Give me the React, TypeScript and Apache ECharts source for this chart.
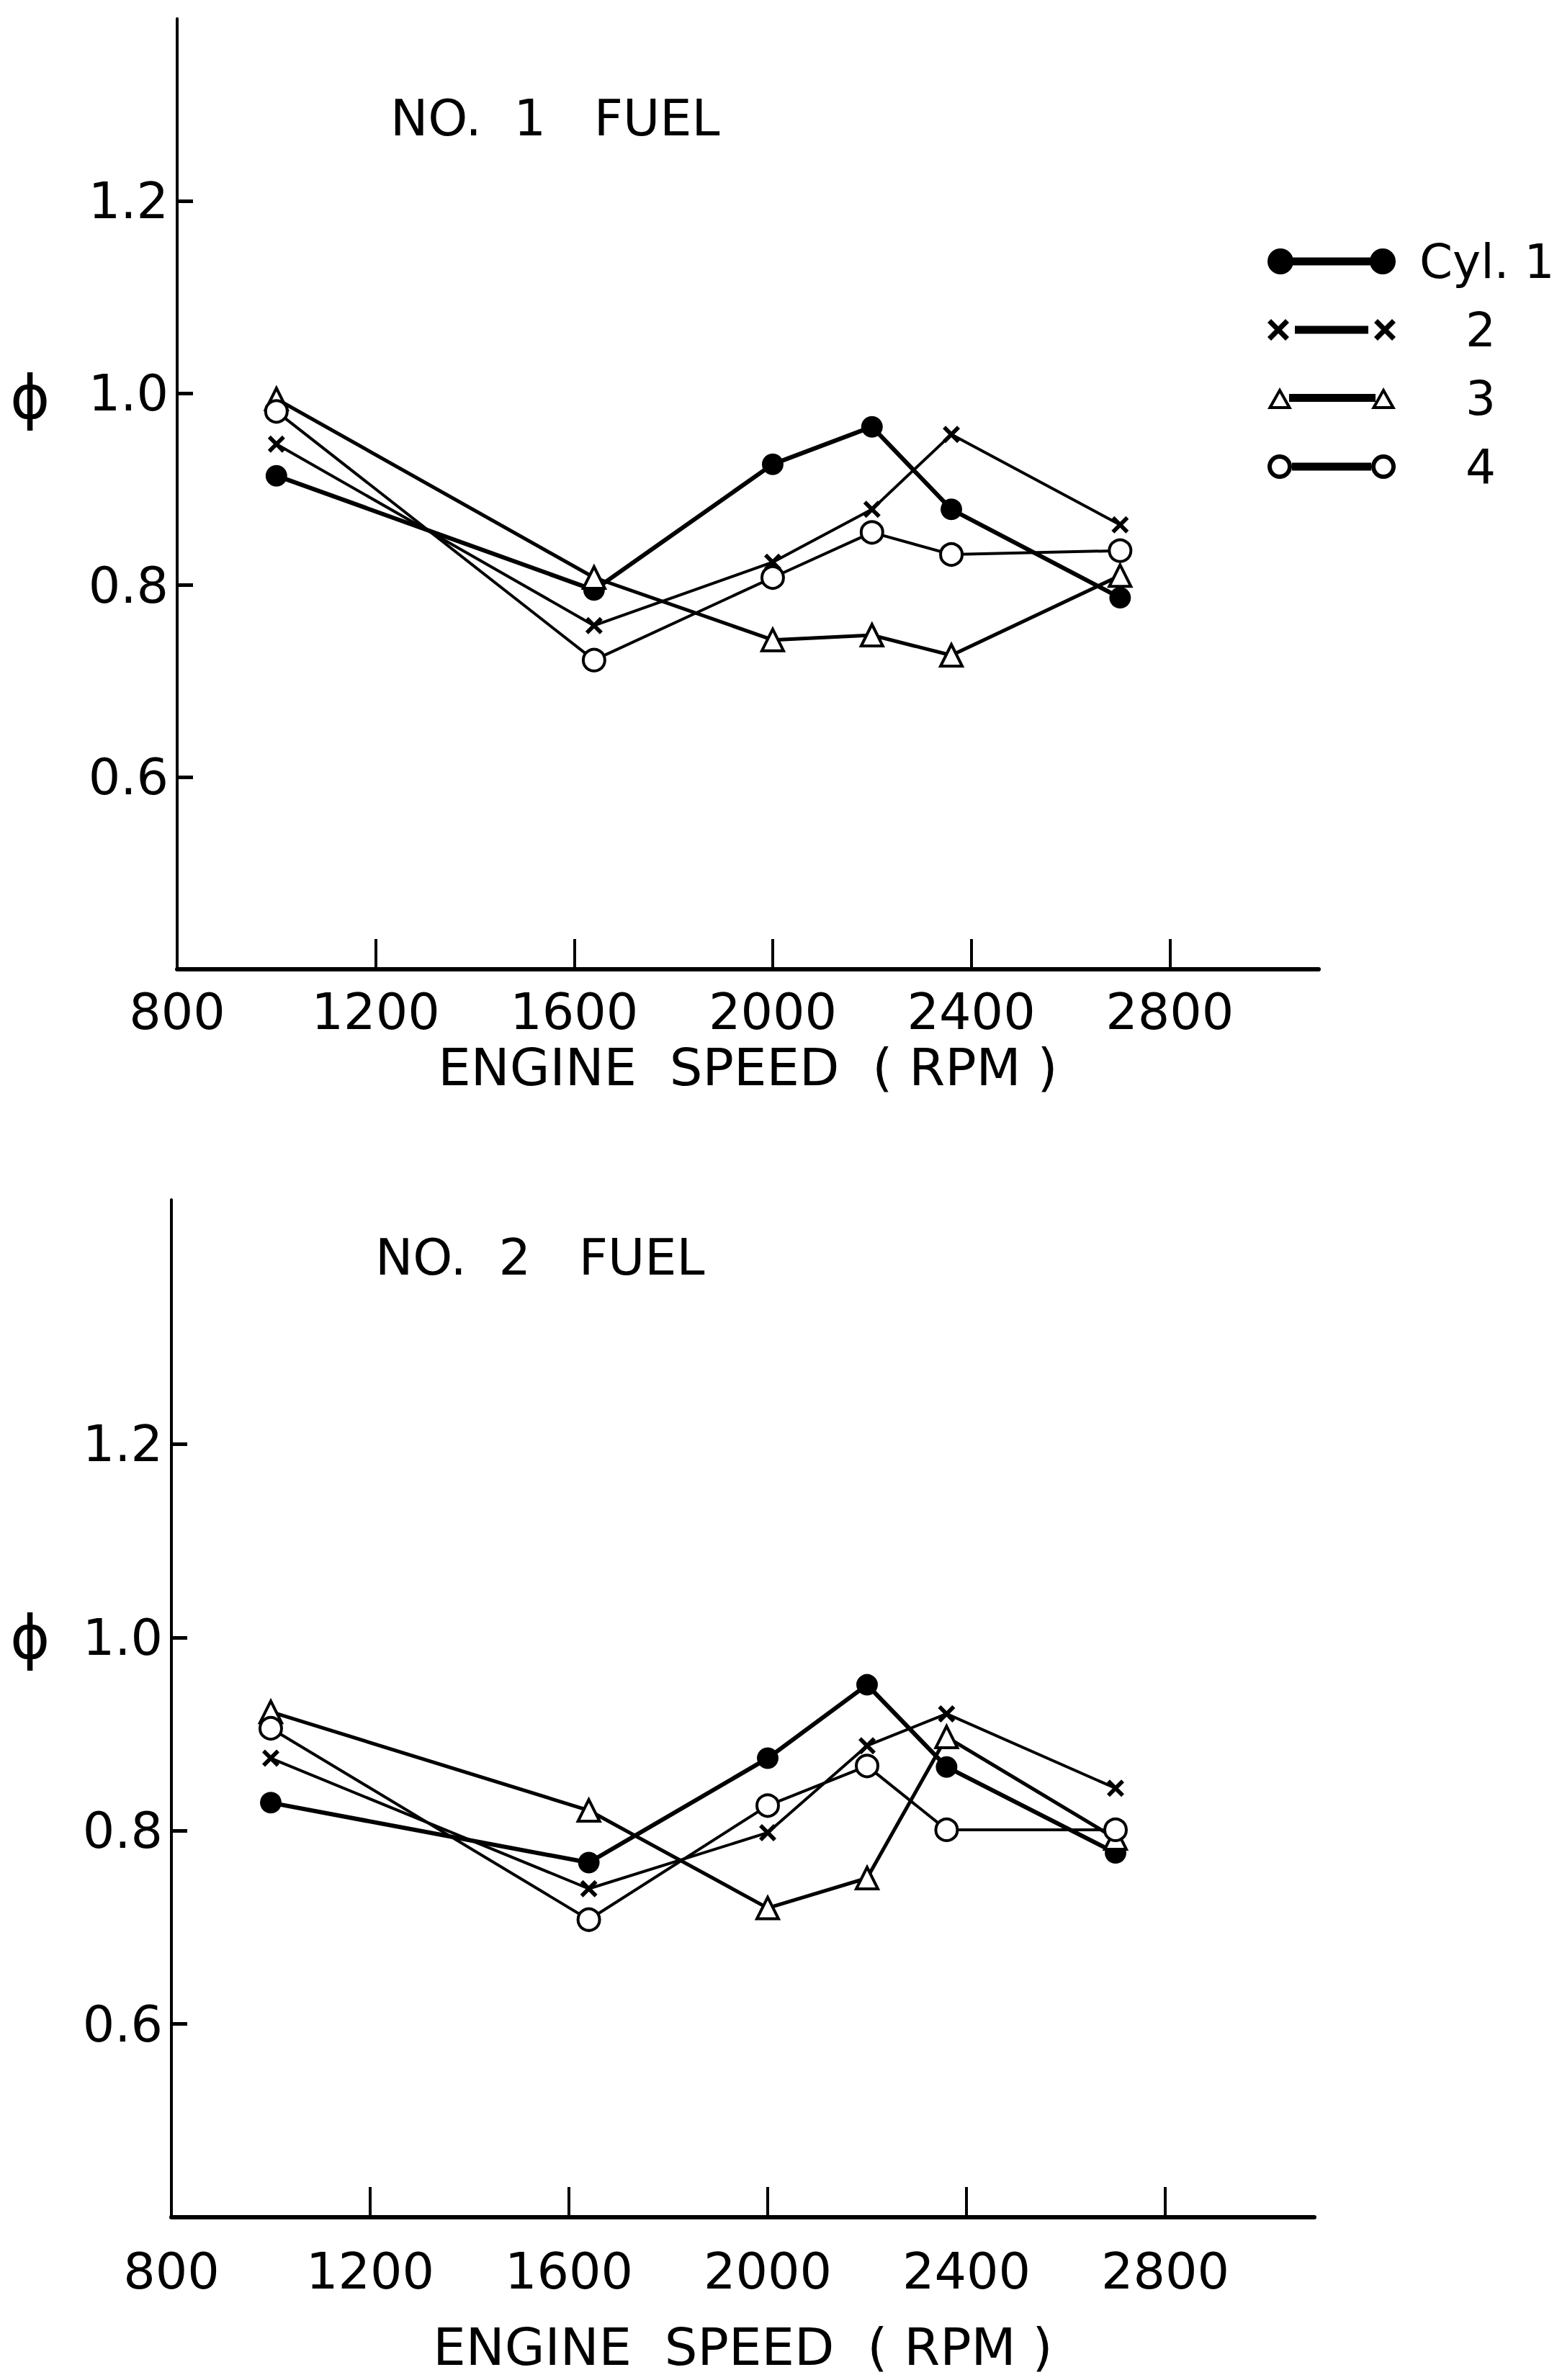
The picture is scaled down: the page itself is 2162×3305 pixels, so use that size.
import React, { useEffect, useRef } from "react";
import * as echarts from "echarts";

// Engine speeds at which the equivalence ratio was measured (RPM)
const rpm = [1000, 1640, 2000, 2200, 2360, 2700];

const cylNames = ["Cyl. 1", "Cyl. 2", "Cyl. 3", "Cyl. 4"];

// No. 1 fuel: equivalence ratio per cylinder
const fuel1Cyl1 = [0.914, 0.795, 0.926, 0.965, 0.879, 0.787];
const fuel1Cyl2 = [0.947, 0.758, 0.824, 0.879, 0.957, 0.863];
const fuel1Cyl3 = [0.994, 0.808, 0.743, 0.748, 0.727, 0.81];
const fuel1Cyl4 = [0.981, 0.722, 0.808, 0.855, 0.832, 0.836];

// No. 2 fuel: equivalence ratio per cylinder
const fuel2Cyl1 = [0.829, 0.767, 0.875, 0.951, 0.866, 0.777];
const fuel2Cyl2 = [0.875, 0.74, 0.798, 0.888, 0.921, 0.844];
const fuel2Cyl3 = [0.923, 0.821, 0.72, 0.751, 0.897, 0.792];
const fuel2Cyl4 = [0.906, 0.708, 0.826, 0.867, 0.801, 0.801];

const xTickLabels = [800, 1200, 1600, 2000, 2400, 2800];
const xTickMarks = [1200, 1600, 2000, 2400, 2800];
const yTickValues = [0.6, 0.8, 1.0, 1.2];

const panelTitles = ["NO.  1   FUEL", "NO.  2   FUEL"];
const xAxisTitle = "ENGINE  SPEED  ( RPM )";
const yAxisTitle = "\u03d5";

const FONT = "'DejaVu Sans', 'Liberation Sans', sans-serif";

// Marker shapes
const symbolX = "path://M0,5L5,0L30,25L25,30Z M25,0L30,5L5,30L0,25Z";

// Legend keys: a marker at each end of a short bar
const legendIcons = [
  "path://M0,18A18,18 0 1,1 36,18A18,18 0 1,1 0,18Z M142,18A18,18 0 1,1 178,18A18,18 0 1,1 142,18Z M30,12.5H148V23.5H30Z",
  "path://M0,8L5,3L30,28L25,33Z M25,3L30,8L5,33L0,28Z M148,8L153,3L178,28L173,33Z M173,3L178,8L153,33L148,28Z M38,12.5H140V23.5H38Z",
  "path://M0,34L17,4L34,34Z M7,30L27,30L17,12Z M144,34L161,4L178,34Z M151,30L171,30L161,12Z M30,13H150V24H30Z",
  "path://M0,18A17,17 0 1,1 34,18A17,17 0 1,1 0,18Z M6,18A11,11 0 1,0 28,18A11,11 0 1,0 6,18Z M144,18A17,17 0 1,1 178,18A17,17 0 1,1 144,18Z M150,18A11,11 0 1,0 172,18A11,11 0 1,0 150,18Z M34,12.5H144V23.5H34Z",
];

const cylStyles = [
  { symbol: "circle", symbolSize: 30, itemStyle: { color: "#000" }, lineWidth: 6 },
  { symbol: symbolX, symbolSize: 24, itemStyle: { color: "#000" }, lineWidth: 4 },
  {
    symbol: "triangle",
    symbolSize: 30,
    itemStyle: { color: "#fff", borderColor: "#000", borderWidth: 4 },
    lineWidth: 5,
  },
  {
    symbol: "circle",
    symbolSize: 30,
    itemStyle: { color: "#fff", borderColor: "#000", borderWidth: 4 },
    lineWidth: 4,
  },
];

const panels = [
  { values: [fuel1Cyl1, fuel1Cyl2, fuel1Cyl3, fuel1Cyl4], yMax: 1.39, labelMargin: 24, nameGap: 100 },
  { values: [fuel2Cyl1, fuel2Cyl2, fuel2Cyl3, fuel2Cyl4], yMax: 1.453, labelMargin: 40, nameGap: 144 },
];

const grids = [
  { left: 246, top: 26, width: 1585, height: 1320 },
  { left: 238, top: 1666, width: 1587, height: 1413 },
];

function buildOption(): echarts.EChartsCoreOption {
  const xAxes = panels.map((p, i) => ({
    type: "value",
    gridIndex: i,
    min: 800,
    max: 3100,
    splitLine: { show: false },
    axisLine: { show: true, lineStyle: { color: "#000", width: 6 } },
    axisTick: {
      show: true,
      inside: true,
      length: 42,
      lineStyle: { color: "#000", width: 4 },
      customValues: xTickMarks,
    },
    axisLabel: {
      customValues: xTickLabels,
      formatter: (v: number) => String(v),
      color: "#000",
      fontFamily: FONT,
      fontSize: 70,
      margin: p.labelMargin,
    },
    name: xAxisTitle,
    nameLocation: "middle",
    nameGap: p.nameGap,
    nameTextStyle: { color: "#000", fontFamily: FONT, fontSize: 72 },
  }));

  const yAxes = panels.map((p, i) => ({
    type: "value",
    gridIndex: i,
    min: 0.4,
    max: p.yMax,
    splitLine: { show: false },
    axisLine: { show: true, lineStyle: { color: "#000", width: 4 } },
    axisTick: {
      show: true,
      inside: true,
      length: 22,
      lineStyle: { color: "#000", width: 5 },
      customValues: yTickValues,
    },
    axisLabel: {
      customValues: yTickValues,
      formatter: (v: number) => v.toFixed(1),
      color: "#000",
      fontFamily: FONT,
      fontSize: 70,
      margin: 12,
    },
  }));

  const series: any[] = [];
  panels.forEach((p, gi) => {
    p.values.forEach((vals, ci) => {
      const st = cylStyles[ci];
      series.push({
        type: "line",
        name: cylNames[ci],
        xAxisIndex: gi,
        yAxisIndex: gi,
        data: rpm.map((x, k) => [x, vals[k]]),
        symbol: st.symbol,
        symbolSize: st.symbolSize,
        showAllSymbol: true,
        itemStyle: st.itemStyle,
        lineStyle: { color: "#000", width: st.lineWidth },
        emphasis: { disabled: true },
        silent: true,
      });
    });
  });

  return {
    animation: false,
    backgroundColor: "#fff",
    grid: grids.map((g) => ({ ...g, containLabel: false })),
    xAxis: xAxes,
    yAxis: yAxes,
    title: [
      {
        text: panelTitles[0],
        left: 537,
        top: 124,
        textStyle: { color: "#000", fontFamily: FONT, fontSize: 70, fontWeight: "normal" },
      },
      {
        text: panelTitles[1],
        left: 516,
        top: 1706,
        textStyle: { color: "#000", fontFamily: FONT, fontSize: 70, fontWeight: "normal" },
      },
    ],
    legend: {
      orient: "vertical",
      left: 1755,
      top: 325,
      itemWidth: 178,
      itemHeight: 36,
      itemGap: 29,
      selectedMode: false,
      data: cylNames.map((n, i) => ({
        name: n,
        icon: legendIcons[i],
        itemStyle: { color: "#000", borderWidth: 0 },
      })),
      formatter: (n: string) =>
        n === cylNames[0] ? `{a|${n}}` : `{b|${n.replace("Cyl. ", "")}}`,
      textStyle: {
        color: "#000",
        fontFamily: FONT,
        fontSize: 66,
        lineHeight: 36,
        rich: {
          a: { fontFamily: FONT, fontSize: 66, lineHeight: 36, padding: [0, 0, 0, 28] },
          b: { fontFamily: FONT, fontSize: 66, lineHeight: 36, padding: [0, 0, 0, 92] },
        },
      },
    },
    graphic: [
      {
        type: "text",
        left: 14,
        top: 510,
        style: { text: yAxisTitle, fill: "#000", font: `84px ${FONT}` },
      },
      {
        type: "text",
        left: 14,
        top: 2232,
        style: { text: yAxisTitle, fill: "#000", font: `84px ${FONT}` },
      },
    ],
    series,
  };
}

export default function App() {
  const ref = useRef<HTMLDivElement>(null);

  useEffect(() => {
    document.body.style.margin = "0";
    if (!ref.current) return;
    const chart = echarts.init(ref.current, undefined, { renderer: "svg" });
    chart.setOption(buildOption());
    return () => chart.dispose();
  }, []);

  return <div ref={ref} style={{ width: 2162, height: 3305, background: "#fff" }} />;
}
